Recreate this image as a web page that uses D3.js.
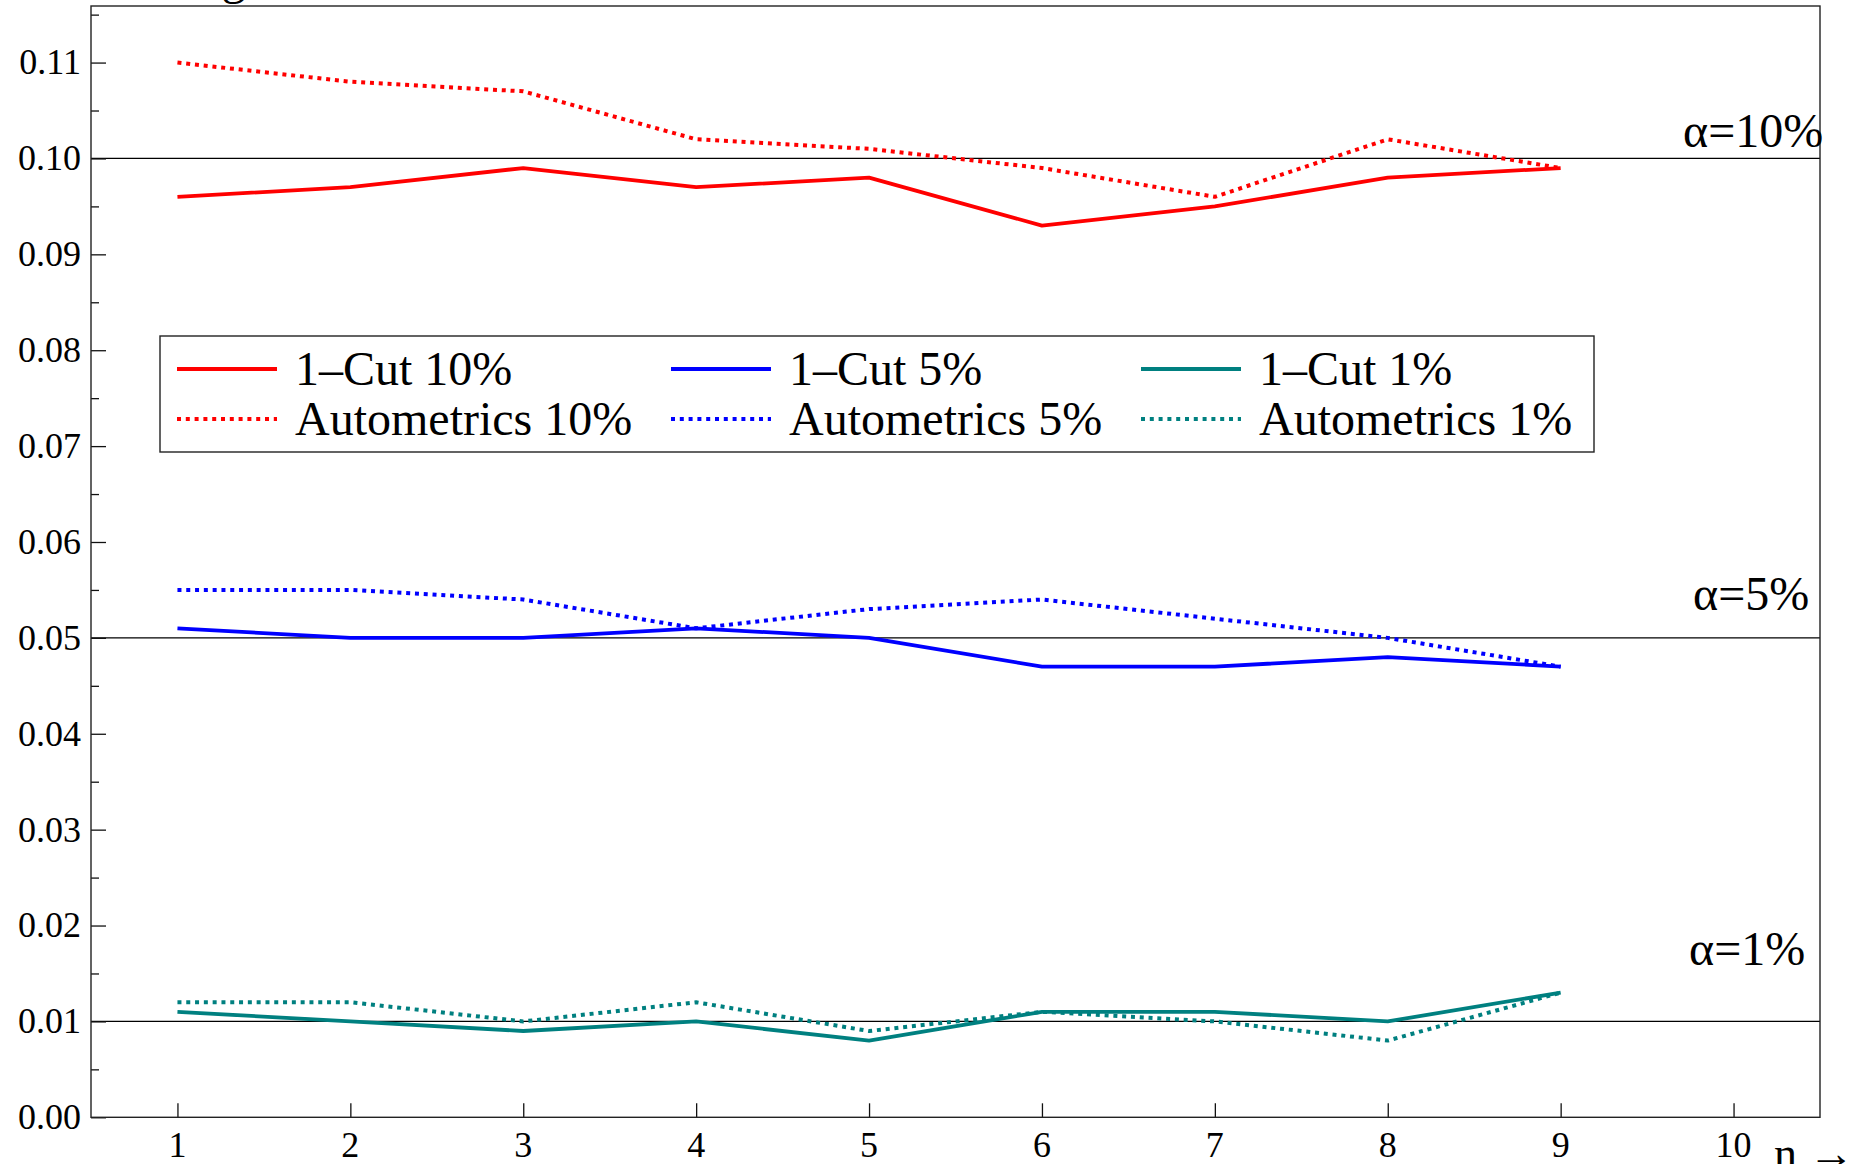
<!DOCTYPE html>
<html>
<head>
<meta charset="utf-8">
<script src="https://cdn.jsdelivr.net/npm/d3@7"></script>
<style>
  html, body { margin: 0; padding: 0; background: #fff; }
  svg { display: block; }
  svg text { font-family: "Liberation Serif", "Times New Roman", serif; }
</style>
</head>
<body>
<script>
// Sample sizes index along the horizontal axis
const nValues = [1, 2, 3, 4, 5, 6, 7, 8, 9];

// Rejection frequencies per method and nominal level
const cut10  = [0.096, 0.097, 0.099, 0.097, 0.098, 0.093, 0.095, 0.098, 0.099];
const auto10 = [0.110, 0.108, 0.107, 0.102, 0.101, 0.099, 0.096, 0.102, 0.099];
const cut5   = [0.051, 0.050, 0.050, 0.051, 0.050, 0.047, 0.047, 0.048, 0.047];
const auto5  = [0.055, 0.055, 0.054, 0.051, 0.053, 0.054, 0.052, 0.050, 0.047];
const cut1   = [0.011, 0.010, 0.009, 0.010, 0.008, 0.011, 0.011, 0.010, 0.013];
const auto1  = [0.012, 0.012, 0.010, 0.012, 0.009, 0.011, 0.010, 0.008, 0.013];

// Nominal levels drawn as reference lines
const levels = [0.10, 0.05, 0.01];
const levelLabels = ["α=10%", "α=5%", "α=1%"];

// Axis ticks
const xTicks = [1, 2, 3, 4, 5, 6, 7, 8, 9, 10];
const yTicks = [0.00, 0.01, 0.02, 0.03, 0.04, 0.05, 0.06, 0.07, 0.08, 0.09, 0.10, 0.11];
const yMinorTicks = [0.005, 0.015, 0.025, 0.035, 0.045, 0.055, 0.065, 0.075, 0.085, 0.095, 0.105, 0.115];

const seriesList = [
  { name: "1–Cut 10%",        values: cut10,  color: "#ff0000", dotted: false },
  { name: "Autometrics 10%",  values: auto10, color: "#ff0000", dotted: true  },
  { name: "1–Cut 5%",         values: cut5,   color: "#0000ff", dotted: false },
  { name: "Autometrics 5%",   values: auto5,  color: "#0000ff", dotted: true  },
  { name: "1–Cut 1%",         values: cut1,   color: "#008080", dotted: false },
  { name: "Autometrics 1%",   values: auto1,  color: "#008080", dotted: true  }
];

const W = 1862, H = 1164;
const plot = { left: 91, right: 1820, top: 6, bottom: 1117.3 };
const serif = "'Liberation Serif', 'Times New Roman', serif";

const svg = d3.select("body").append("svg")
  .attr("width", W).attr("height", H);

const x = d3.scaleLinear().domain([0.5, 10.5]).range([plot.left, plot.right]);
const y = d3.scaleLinear().domain([0, 0.1159]).range([plot.bottom, plot.top]);

// Reference lines at the nominal levels
svg.append("g").selectAll("line").data(levels).join("line")
  .attr("x1", plot.left).attr("x2", plot.right)
  .attr("y1", d => y(d)).attr("y2", d => y(d))
  .attr("stroke", "#000").attr("stroke-width", 1.3);

// Series lines
const line = d3.line().x((d, i) => x(nValues[i])).y(d => y(d));
svg.append("g").selectAll("path").data(seriesList).join("path")
  .attr("d", d => line(d.values))
  .attr("fill", "none")
  .attr("stroke", d => d.color)
  .attr("stroke-width", d => d.dotted ? 4 : 3.8)
  .attr("stroke-dasharray", d => d.dotted ? "4,4.8" : null)
  .attr("stroke-linejoin", "round");

// Left axis with inward ticks
const yAxisG = svg.append("g").attr("transform", `translate(${plot.left},0)`);
yAxisG.append("g").call(d3.axisRight(y).tickValues(yTicks).tickSize(15).tickFormat(""))
  .call(g => g.select(".domain").remove());
yAxisG.append("g").call(d3.axisRight(y).tickValues(yMinorTicks).tickSize(8).tickFormat(""))
  .call(g => g.select(".domain").remove());
yAxisG.selectAll(".tick line").attr("stroke", "#111").attr("stroke-width", 1.3);
yAxisG.selectAll(".tick text").remove();
yAxisG.append("g").selectAll("text").data(yTicks).join("text")
  .attr("x", -10).attr("y", d => y(d)).attr("dy", "0.33em")
  .attr("text-anchor", "end")
  .attr("font-family", serif)
  .attr("font-size", 36).attr("fill", "#000")
  .text(d => d3.format(".2f")(d));

// Bottom axis with inward ticks
const xAxisG = svg.append("g").attr("transform", `translate(0,${plot.bottom})`);
xAxisG.append("g").call(d3.axisTop(x).tickValues(xTicks).tickSize(14).tickFormat(""))
  .call(g => g.select(".domain").remove());
xAxisG.selectAll(".tick line").attr("stroke", "#111").attr("stroke-width", 1.3);
xAxisG.append("g").selectAll("text").data(xTicks).join("text")
  .attr("x", d => x(d)).attr("y", 40)
  .attr("text-anchor", "middle")
  .attr("font-family", serif)
  .attr("font-size", 36).attr("fill", "#000")
  .text(d => d);

// Frame
svg.append("rect")
  .attr("x", plot.left).attr("y", plot.top)
  .attr("width", plot.right - plot.left).attr("height", plot.bottom - plot.top)
  .attr("fill", "none").attr("stroke", "#222").attr("stroke-width", 1.4);

// Axis titles
svg.append("text")
  .attr("x", 1774).attr("y", 1169)
  .attr("font-size", 46).attr("fill", "#000")
  .text("n →");
svg.append("text")
  .attr("x", 108).attr("y", -6)
  .attr("font-size", 48).attr("fill", "#000")
  .text("Average size");

// Level labels on the right
const levelLabelPos = [
  { x: 1683, y: 147 },
  { x: 1693, y: 610 },
  { x: 1689, y: 965 }
];
svg.append("g").selectAll("text").data(levelLabels).join("text")
  .attr("x", (d, i) => levelLabelPos[i].x)
  .attr("y", (d, i) => levelLabelPos[i].y)
  .attr("font-size", 48).attr("fill", "#000")
  .text(d => d);

// Legend
const legend = svg.append("g");
legend.append("rect")
  .attr("x", 160).attr("y", 336).attr("width", 1434).attr("height", 116)
  .attr("fill", "#fff").attr("stroke", "#222").attr("stroke-width", 1.4);
const colX = [177, 671, 1141];
const rowY = [369, 419];
seriesList.forEach((s, i) => {
  const col = Math.floor(i / 2), row = i % 2;
  const gx = colX[col], gy = rowY[row];
  legend.append("line")
    .attr("x1", gx).attr("x2", gx + 100)
    .attr("y1", gy).attr("y2", gy)
    .attr("stroke", s.color)
    .attr("stroke-width", s.dotted ? 4 : 3.8)
    .attr("stroke-dasharray", s.dotted ? "4,4.8" : null);
  legend.append("text")
    .attr("x", gx + 118).attr("y", gy + 16)
    .attr("font-size", 48).attr("fill", "#000")
    .text(s.name);
});
</script>
</body>
</html>
